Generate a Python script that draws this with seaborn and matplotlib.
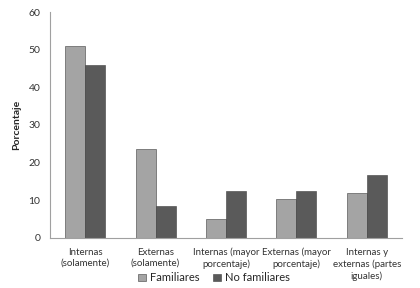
import matplotlib
matplotlib.use("Agg")
import matplotlib.pyplot as plt
import seaborn as sns
import pandas as pd

categories = ["Internas\n(solamente)", "Externas\n(solamente)", "Internas (mayor\nporcentaje)",
              "Externas (mayor\nporcentaje)", "Internas y\nexternas (partes\niguales)"]
familiares = [51, 23.6, 5, 10.3, 12]
no_familiares = [46, 8.5, 12.5, 12.5, 16.8]
series = ["Familiares", "No familiares"]
yticks = [0, 10, 20, 30, 40, 50, 60]

df = pd.DataFrame({
    "cat": categories * 2,
    "val": familiares + no_familiares,
    "serie": [series[0]] * len(categories) + [series[1]] * len(categories),
})

sns.set_style("white")
plt.rcParams["font.family"] = ["Lato", "DejaVu Sans"]
fig = plt.figure(figsize=(4.2, 2.88), dpi=100)
ax = fig.add_axes([0.119, 0.174, 0.838, 0.784])
sns.barplot(data=df, x="cat", y="val", hue="serie", palette=["#a4a4a4", "#5a5a5a"],
            width=0.57, gap=0, ax=ax, edgecolor="#3f3f3f", linewidth=0.4, legend=True)

ax.set_ylim(0, 60)
ax.set_xlim(-0.5, 4.5)
ax.set_yticks(yticks)
ax.set_yticklabels([str(t) for t in yticks], fontsize=7.5, color="#333333")
ax.tick_params(axis="both", length=0, pad=7)
ax.tick_params(axis="x", labelsize=7, labelcolor="#333333", pad=7)
for lab in ax.get_xticklabels():
    lab.set_linespacing(1.35)
ax.set_xlabel("")
ax.set_ylabel("Porcentaje", fontsize=7.5, fontweight="bold", labelpad=5)
for s in ["top", "right"]:
    ax.spines[s].set_visible(False)
for s in ["left", "bottom"]:
    ax.spines[s].set_color("#a0a0a0")
    ax.spines[s].set_linewidth(0.8)

ax.legend(loc="center", bbox_to_anchor=(0.466, -0.177), ncol=2, frameon=False,
          fontsize=8, handlelength=0.7, handleheight=0.7, columnspacing=1.2, handletextpad=0.4,
          borderpad=0.1)

fig.savefig("out.png", dpi=100)
